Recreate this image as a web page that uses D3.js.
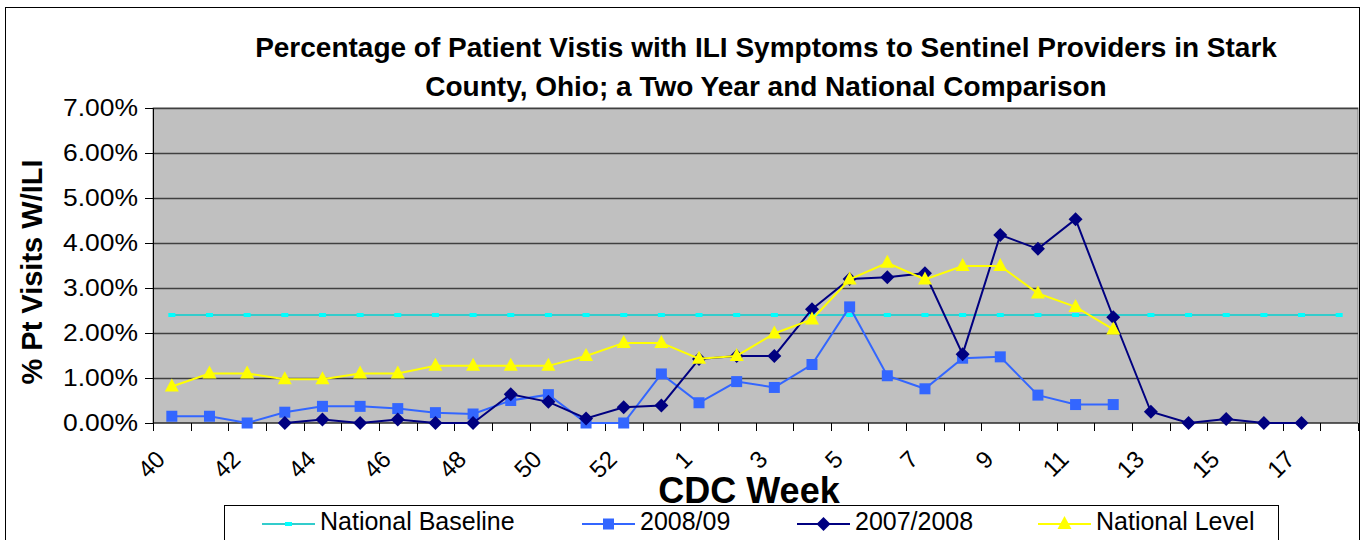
<!DOCTYPE html>
<html>
<head>
<meta charset="utf-8">
<script src="https://cdn.jsdelivr.net/npm/d3@7"></script>
<style>
  body { margin: 0; background: #fff; }
  text { font-family: Arial, "Liberation Sans", sans-serif; }
</style>
</head>
<body>
<div id="chart"></div>
<script>
// CDC weeks (2008 season had a week 53)
const weeks = [40,41,42,43,44,45,46,47,48,49,50,51,52,53,1,2,3,4,5,6,7,8,9,10,11,12,13,14,15,16,17,18];
const weekLabels = [40,42,44,46,48,50,52,1,3,5,7,9,11,13,15,17];

const nationalBaseline = weeks.map(() => 2.4);
const season0809 = [0.15,0.15,0.0,0.24,0.37,0.37,0.32,0.23,0.20,0.50,0.63,0.0,0.0,1.09,0.45,0.92,0.79,1.30,2.58,1.05,0.76,1.44,1.47,0.62,0.41,0.41,null,null,null,null,null,null];
const season0708 = [null,null,null,0.0,0.08,0.0,0.08,0.0,0.0,0.64,0.47,0.10,0.35,0.39,1.42,1.49,1.49,2.53,3.20,3.24,3.33,1.53,4.18,3.87,4.53,2.35,0.25,0.0,0.09,0.0,0.0,null];
const nationalLevel = [0.81,1.10,1.10,0.97,0.97,1.10,1.10,1.27,1.27,1.27,1.27,1.49,1.78,1.78,1.43,1.49,1.99,2.30,3.19,3.56,3.19,3.49,3.49,2.88,2.58,2.08,null,null,null,null,null,null];
const yTicks = [0,1,2,3,4,5,6,7];

const series = [
  { name: 'National Baseline', values: nationalBaseline, color: '#33CCCC', marker: 'dash', mcolor: '#00FFFF' },
  { name: '2008/09', values: season0809, color: '#3366FF', marker: 'square', mcolor: '#3366FF' },
  { name: '2007/2008', values: season0708, color: '#000080', marker: 'diamond', mcolor: '#000080' },
  { name: 'National Level', values: nationalLevel, color: '#FFFF00', marker: 'triangle', mcolor: '#FFFF00' }
];

const W = 1364, H = 540;
const margin = { top: 108, right: 6, bottom: 117, left: 153 };
const width = W - margin.left - margin.right,
  height = H - margin.top - margin.bottom;

const root = d3.select('#chart').append('svg')
  .attr('width', W).attr('height', H);

// chart frame
root.append('rect')
  .attr('x', 5.5).attr('y', 7.5).attr('width', 1354).attr('height', 545)
  .attr('fill', 'none').attr('stroke', '#000').attr('stroke-width', 1);

root.append('text')
  .attr('x', 766).attr('y', 57).attr('text-anchor', 'middle')
  .style('font-size', '28px').style('font-weight', 'bold')
  .text('Percentage of Patient Vistis with ILI Symptoms to Sentinel Providers in Stark');
root.append('text')
  .attr('x', 766).attr('y', 96).attr('text-anchor', 'middle')
  .style('font-size', '28px').style('font-weight', 'bold')
  .text('County, Ohio; a Two Year and National Comparison');

const svg = root.append('g')
  .attr('transform', 'translate(' + margin.left + ',' + margin.top + ')');

const x = d3.scaleBand().domain(d3.range(weeks.length)).range([0, width]);
const y = d3.scaleLinear().domain([0, 7]).range([height, 0]);

svg.append('rect')
  .attr('width', width).attr('height', height)
  .attr('fill', '#C0C0C0').attr('stroke', '#808080');

// gridlines
svg.append('g')
  .selectAll('line')
  .data(yTicks.slice(1))
  .enter()
  .append('line')
  .attr('x1', 0).attr('x2', width)
  .attr('y1', d => Math.round(y(d)) + 0.5).attr('y2', d => Math.round(y(d)) + 0.5)
  .attr('stroke', '#404040').attr('stroke-width', 1.5);

// y axis
const yAxis = svg.append('g')
  .call(d3.axisLeft(y).tickValues(yTicks).tickSize(8).tickFormat(d => d.toFixed(2) + '%'));
yAxis.select('.domain').attr('stroke', '#000');
yAxis.selectAll('text')
  .style('font-size', '23px').attr('fill', '#000')
  .attr('x', -15 / 1.15)
  .attr('transform', 'scale(1.15,1)');

// x axis: ticks on band boundaries
const xAxis = svg.append('g').attr('transform', 'translate(0,' + height + ')');
xAxis.append('line').attr('x1', 0).attr('x2', width).attr('stroke', '#000');
xAxis.selectAll('line.tick')
  .data(d3.range(weeks.length + 1))
  .enter()
  .append('line')
  .attr('class', 'tick')
  .attr('x1', d => Math.round(d * x.step()) + 0.5).attr('x2', d => Math.round(d * x.step()) + 0.5)
  .attr('y1', 0).attr('y2', 8)
  .attr('stroke', '#000');
xAxis.selectAll('text')
  .data(weeks.map((w, i) => ({ w, i })).filter(d => weekLabels.includes(d.w) && (d.i < 13 || d.w < 40)))
  .enter()
  .append('text')
  .attr('transform', d => 'translate(' + (x(d.i) + x.bandwidth() / 2 - 18) + ',' + 25 + ') rotate(-45)')
  .attr('text-anchor', 'end')
  .attr('dy', '0.75em')
  .style('font-size', '24px')
  .text(d => d.w);

root.append('text')
  .attr('x', 749).attr('y', 503).attr('text-anchor', 'middle')
  .style('font-size', '36px').style('font-weight', 'bold')
  .text('CDC Week');

root.append('text')
  .attr('transform', 'translate(42,272) rotate(-90)')
  .attr('text-anchor', 'middle')
  .style('font-size', '29px').style('font-weight', 'bold')
  .text('% Pt Visits W/ILI');

// markers
function drawMarker(sel, type, color) {
  if (type === 'square') {
    sel.append('rect').attr('x', -5.5).attr('y', -5.5).attr('width', 11).attr('height', 11).attr('fill', color);
  } else if (type === 'diamond') {
    sel.append('path').attr('d', 'M0,-7L7,0L0,7L-7,0Z').attr('fill', color);
  } else if (type === 'triangle') {
    sel.append('path').attr('d', 'M0,-8L7,5L-7,5Z').attr('fill', color);
  } else {
    sel.append('rect').attr('x', -3.5).attr('y', -2).attr('width', 7).attr('height', 4).attr('fill', color);
  }
}

const line = d3.line()
  .defined(d => d.v !== null)
  .x(d => x(d.i) + x.bandwidth() / 2)
  .y(d => y(d.v));

series.forEach(s => {
  const pts = s.values.map((v, i) => ({ v, i }));
  svg.append('path')
    .datum(pts)
    .attr('fill', 'none')
    .attr('stroke', s.color)
    .attr('stroke-width', 2)
    .attr('d', line);
  svg.append('g')
    .selectAll('g')
    .data(pts.filter(d => d.v !== null))
    .enter()
    .append('g')
    .attr('transform', d => 'translate(' + (x(d.i) + x.bandwidth() / 2) + ',' + y(d.v) + ')')
    .each(function () { drawMarker(d3.select(this), s.marker, s.mcolor); });
});

// legend
const legend = root.append('g');
legend.append('rect')
  .attr('x', 224.5).attr('y', 505.5).attr('width', 1054).attr('height', 50)
  .attr('fill', '#fff').attr('stroke', '#000');
const legendX = [262, 582, 797, 1038];
series.forEach((s, k) => {
  const g = legend.append('g').attr('transform', 'translate(' + legendX[k] + ',524)');
  g.append('line').attr('x1', 0).attr('x2', 53).attr('stroke', s.color).attr('stroke-width', 2);
  const m = g.append('g').attr('transform', 'translate(26.5,0)');
  drawMarker(m, s.marker, s.mcolor);
  g.append('text').attr('x', 58).attr('y', 6).style('font-size', '25px').text(s.name);
});
</script>
</body>
</html>
